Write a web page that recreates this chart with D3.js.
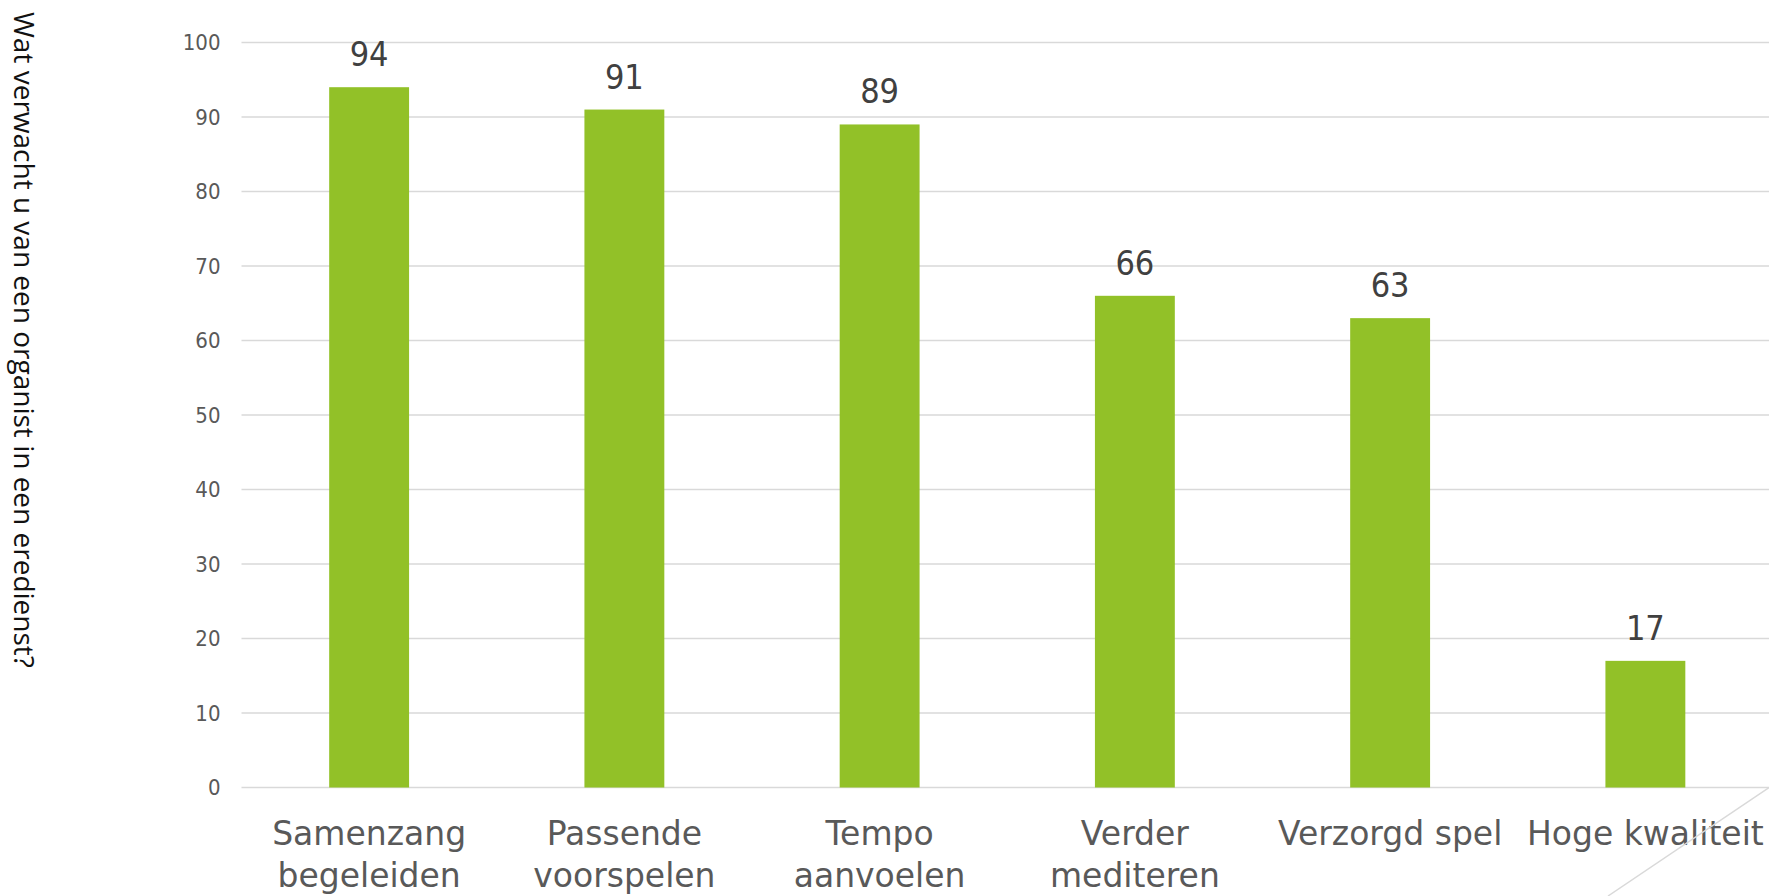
<!DOCTYPE html>
<html>
<head>
<meta charset="utf-8">
<script src="https://cdn.jsdelivr.net/npm/d3@7"></script>
<style>
  body { margin: 0; background: #fff; }
  svg { display: block; }
</style>
</head>
<body>
<svg id="chart"></svg>
<script>
// data
const categories = [
    ["Samenzang", "begeleiden"],
    ["Passende", "voorspelen"],
    ["Tempo", "aanvoelen"],
    ["Verder", "mediteren"],
    ["Verzorgd spel"],
    ["Hoge kwaliteit"]
];
const values = [94, 91, 89, 66, 63, 17];
const yTicks = [0, 10, 20, 30, 40, 50, 60, 70, 80, 90, 100];
const title = "Wat verwacht u van een organist in een eredienst?";

const width = 1769, height = 896;
const margin = { top: 42.5, right: -4, bottom: 108.5, left: 241.5 };
const innerW = width - margin.left - margin.right;
const innerH = height - margin.top - margin.bottom;

const svg = d3.select("#chart")
    .attr("width", width)
    .attr("height", height);

const keys = categories.map(c => c.join(" "));

const x = d3.scaleBand()
    .domain(keys)
    .range([0, innerW])
    .paddingInner(0.687)
    .paddingOuter(0.687 / 2);

const y = d3.scaleLinear()
    .domain([0, 100])
    .range([innerH, 0]);

const g = svg.append("g")
    .attr("transform", `translate(${margin.left}, ${margin.top})`);

// gridlines
g.append("g")
    .selectAll("line")
    .data(yTicks)
    .join("line")
    .attr("x1", 0)
    .attr("x2", width - margin.left)
    .attr("y1", d => y(d))
    .attr("y2", d => y(d))
    .attr("stroke", "#d9d9d9")
    .attr("stroke-width", 1.6);

// y axis labels
const yAxis = g.append("g")
    .attr("transform", "translate(-21, 0)")
    .call(d3.axisLeft(y).tickValues(yTicks).tickSize(0).tickPadding(0));
yAxis.select(".domain").remove();
yAxis.selectAll("text")
    .attr("font-family", "'DejaVu Sans Condensed', 'DejaVu Sans', sans-serif")
    .attr("font-size", "22px")
    .attr("fill", "#595959");

// bars
g.selectAll("rect.bar")
    .data(values)
    .join("rect")
    .attr("class", "bar")
    .attr("x", (d, i) => x(keys[i]))
    .attr("y", d => y(d))
    .attr("width", x.bandwidth())
    .attr("height", d => innerH - y(d))
    .attr("fill", "#92c128");

// value labels
g.selectAll("text.bar-label")
    .data(values)
    .join("text")
    .attr("class", "bar-label")
    .attr("x", (d, i) => x(keys[i]) + x.bandwidth() / 2)
    .attr("y", d => y(d) - 21)
    .attr("text-anchor", "middle")
    .attr("font-family", "'DejaVu Sans Condensed', 'DejaVu Sans', sans-serif")
    .attr("font-size", "34px")
    .attr("fill", "#404040")
    .text(d => d);

// category labels
const catLabels = g.selectAll("text.cat")
    .data(categories)
    .join("text")
    .attr("class", "cat")
    .attr("text-anchor", "middle")
    .attr("font-family", "'DejaVu Sans', sans-serif")
    .attr("font-size", "33px")
    .attr("fill", "#595959")
    .attr("transform", (d, i) => `translate(${x(keys[i]) + x.bandwidth() / 2}, ${innerH + 57})`);

catLabels.selectAll("tspan")
    .data(d => d)
    .join("tspan")
    .attr("x", 0)
    .attr("y", (d, i) => i * 42)
    .text(d => d);

// decorative diagonal line at bottom right
svg.append("line")
    .attr("x1", width)
    .attr("y1", margin.top + innerH)
    .attr("x2", 1608)
    .attr("y2", height)
    .attr("stroke", "#d9d9d9")
    .attr("stroke-width", 1.5);

// vertical title
svg.append("text")
    .attr("transform", "translate(14, 12) rotate(90)")
    .attr("font-family", "'Open Sans', sans-serif")
    .attr("font-size", "28px")
    .attr("fill", "#111")
    .text(title);
</script>
</body>
</html>
